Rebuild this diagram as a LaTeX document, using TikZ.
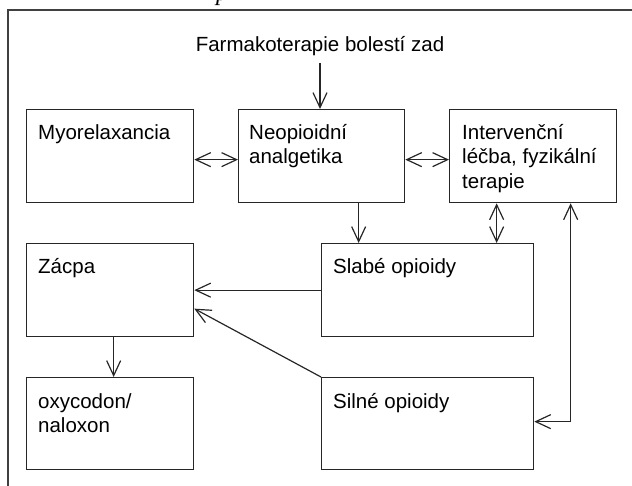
\documentclass[tikz,border=0pt]{standalone}
\usepackage{fontspec}
\setmainfont{Liberation Sans}
\newfontfamily\serifit{Liberation Serif}
\usetikzlibrary{arrows.meta,calc}
\begin{document}
\begin{tikzpicture}[x=1pt,y=-1pt,
  box/.style={draw=black!85,line width=1.3pt,minimum width=#1,minimum height=93pt,inner sep=0pt,anchor=north west},
  txt/.style={anchor=base west,inner sep=0pt,font=\fontsize{20.5}{24.5}\selectfont},
  ar/.style={draw=black!85,line width=1.2pt,-{Straight Barb[length=15pt,width=14pt]}},
  dar/.style={draw=black!85,line width=1.2pt,{Straight Barb[length=15pt,width=14pt]}-{Straight Barb[length=15pt,width=14pt]}},
  frame/.style={draw=black!75,line width=1.5pt}]
\useasboundingbox (0,0) rectangle (632,486);
\clip (0,0) rectangle (632,486);
% cut caption fragment
\node[anchor=base,inner sep=0pt,font=\serifit\itshape\fontsize{24}{24}\selectfont] (cap) at (222,1) {p};
% frame
\coordinate (fbl) at (8,486);
\coordinate (ftl) at (8,10);
\coordinate (ftr) at (632,10);
\draw[frame] (fbl) -- (ftl) -- (ftr);
% title
\node[anchor=base,inner sep=0pt,font=\fontsize{20.5}{24.5}\selectfont] (title) at (320,52) {Farmakoterapie bolestí zad};
% boxes
\node[box=167pt] (myo) at (26,109) {};
\node[box=166pt] (neo) at (238,109) {};
\node[box=167pt] (int) at (449,109) {};
\node[box=212pt] (slab) at (321,243) {};
\node[box=167pt] (zac) at (26,243) {};
\node[box=167pt,minimum height=92pt] (oxy) at (26,377) {};
\node[box=212pt,minimum height=92pt] (sil) at (321,377) {};
% texts
\node[txt] (myot) at ($(myo.north west)+(12,31)$) {Myorelaxancia};
\node[txt] (neot) at ($(neo.north west)+(11,30.5)$) {\parbox[t]{150pt}{\raggedright Neopioidní\\analgetika}};
\node[txt] (intt) at ($(int.north west)+(13,30.5)$) {\parbox[t]{150pt}{\raggedright Intervenční\\léčba, fyzikální\\terapie}};
\node[txt] (slabt) at ($(slab.north west)+(12,31)$) {Slabé opioidy};
\node[txt] (zact) at ($(zac.north west)+(12,31)$) {Zácpa};
\node[txt] (oxyt) at ($(oxy.north west)+(12,31)$) {\parbox[t]{150pt}{\raggedright oxycodon/\\naloxon}};
\node[txt] (silt) at ($(sil.north west)+(12,31)$) {Silné opioidy};
% connectors
\draw[ar] ($(title.base)+(0,11)$) -- (title.base |- neo.north);
\draw[dar] ($(myo.east)+(0,3.5)$) -- ($(neo.west)+(0,3.5)$);
\draw[dar] ($(neo.east)+(0,3.5)$) -- ($(int.west)+(0,3.5)$);
\draw[ar] ($(neo.south)+(37,0)$) coordinate (n1) -- (n1 |- slab.north);
\draw[dar] ($(int.south)+(-36.5,0)$) coordinate (i1) -- (i1 |- slab.north);
\coordinate (rc) at ($(int.south)+(37.5,0)$);
\draw[dar] ($(sil.east)+(0,-2)$) coordinate (s1) -- (s1 -| rc) -- (rc);
\draw[ar] (slab.west) -- (slab.west -| zac.east);
\draw[ar] (sil.north west) -- ($(zac.east)+(0,18.5)$);
\draw[ar] ($(zac.south)+(3.5,0)$) coordinate (z1) -- (z1 |- oxy.north);
\end{tikzpicture}
\end{document}
